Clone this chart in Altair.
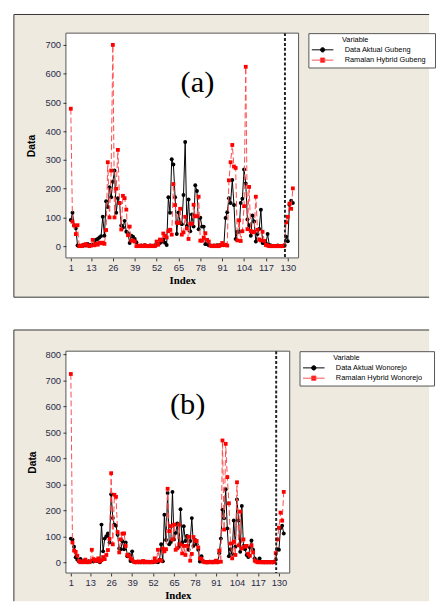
import altair as alt
import pandas as pd

index = list(range(1, 134))

aktual_gubeng = [
    91, 116, 72, 62, 2, 0, 0, 3, 5, 2,
    8, 3, 5, 4, 10, 22, 25, 30, 35, 102,
    36, 156, 136, 205, 170, 224, 263, 116, 167, 150,
    72, 65, 88, 50, 45, 11, 36, 33, 25, 14,
    0, 0, 2, 0, 3, 0, 0, 2, 0, 0,
    3, 5, 8, 11, 15, 23, 12, 4, 170, 116,
    302, 284, 170, 42, 117, 82, 76, 178, 362, 70,
    162, 52, 110, 68, 212, 192, 59, 99, 68, 68,
    7, 7, 3, 2, 0, 2, 0, 3, 2, 4,
    5, 3, 98, 118, 167, 150, 230, 143, 25, 50,
    50, 150, 165, 267, 218, 93, 73, 36, 107, 86,
    16, 42, 60, 127, 11, 11, 10, 42, 4, 2,
    0, 0, 0, 2, 0, 0, 0, 3, 33, 17,
    144, 158, 150,
]
ramalan_gubeng = [
    478, 85, 72, 42, 73, 0, 2, 0, 5, 7,
    3, 0, 2, 22, 3, 8, 5, 12, 10, 12,
    8, 56, 292, 100, 263, 700, 100, 200, 335, 150,
    58, 175, 167, 127, 38, 68, 19, 20, 16, 0,
    0, 2, 0, 0, 3, 0, 0, 0, 2, 0,
    0, 16, 5, 23, 20, 44, 36, 30, 52, 57,
    40, 216, 143, 82, 80, 130, 40, 48, 102, 62,
    25, 78, 78, 144, 104, 104, 172, 19, 19, 30,
    45, 22, 16, 2, 0, 0, 2, 0, 0, 3,
    11, 4, 5, 2, 229, 292, 352, 277, 272, 20,
    90, 18, 52, 139, 624, 59, 206, 53, 48, 50,
    172, 57, 23, 20, 50, 18, 4, 2, 0, 0,
    0, 0, 0, 0, 0, 0, 0, 2, 83, 102,
    148, 130, 201,
]
aktual_wonorejo = [
    91, 88, 60, 19, 10, 3, 13, 2, 5, 3,
    0, 4, 2, 5, 3, 8, 5, 10, 0, 145,
    42, 91, 100, 111, 76, 262, 170, 145, 141, 106,
    53, 50, 81, 50, 76, 23, 30, 5, 42, 3,
    0, 2, 0, 0, 3, 0, 0, 2, 0, 0,
    2, 0, 3, 2, 0, 10, 69, 4, 183, 86,
    267, 69, 78, 271, 88, 113, 149, 60, 204, 76,
    139, 82, 101, 48, 82, 170, 63, 86, 69, 48,
    3, 23, 4, 2, 0, 0, 2, 0, 0, 3,
    2, 0, 35, 91, 202, 169, 281, 130, 23, 50,
    32, 161, 60, 242, 161, 40, 217, 63, 50, 28,
    20, 57, 84, 48, 15, 5, 2, 15, 2, 0,
    0, 0, 0, 0, 0, 0, 2, 10, 50, 48,
    132, 141, 111,
]
ramalan_wonorejo = [
    725, 76, 45, 40, 25, 5, 0, 3, 0, 10,
    2, 0, 3, 48, 12, 5, 8, 15, 3, 8,
    20, 12, 28, 47, 90, 343, 69, 260, 252, 116,
    38, 88, 110, 111, 63, 28, 25, 15, 10, 2,
    0, 0, 3, 0, 0, 5, 0, 0, 2, 0,
    0, 2, 15, 3, 48, 8, 6, 53, 42, 50,
    283, 120, 139, 88, 145, 48, 54, 145, 69, 34,
    63, 28, 63, 98, 6, 32, 97, 83, 82, 57,
    15, 13, 2, 0, 0, 0, 0, 2, 0, 0,
    6, 0, 45, 2, 469, 126, 456, 328, 227, 72,
    15, 79, 28, 308, 65, 195, 53, 88, 60, 63,
    32, 25, 65, 38, 6, 2, 0, 0, 0, 0,
    0, 0, 0, 0, 0, 0, 0, 35, 88, 133,
    191, 160, 271,
]

index_ticks = [1, 13, 26, 39, 52, 65, 78, 91, 104, 117, 130]
data_ticks_a = [0, 100, 200, 300, 400, 500, 600, 700]
data_ticks_b = [0, 100, 200, 300, 400, 500, 600, 700, 800]
split_index = 128.3

BEIGE = "#EEEAE0"
# legend symbols: a horizontal line with a marker in the middle
CIRCLE_PATH = "M-2.75,0L2.75,0M-0.55,0A0.55,0.55,0,1,0,0.55,0A0.55,0.55,0,1,0,-0.55,0Z"
SQUARE_PATH = "M-2.75,0L2.75,0M-0.55,-0.55L0.55,-0.55L0.55,0.55L-0.55,0.55Z"
NB = "\u00a0"
ZW = "\u200b"


def make_panel(actual, forecast, name_actual, name_forecast, tag, g):
    n = len(index)
    df = pd.DataFrame({
        "Index": index * 2,
        "Data": actual + forecast,
        "Variable": [name_actual] * n + [name_forecast] * n,
    })
    xscale = alt.Scale(domain=g["xdom"], nice=False, zero=False)
    xenc = alt.X(
        "Index:Q",
        scale=xscale,
        axis=alt.Axis(values=index_ticks, tickCount=30, title="Index", grid=False, domain=False,
                      tickSize=3, tickColor="#333", labelFont="Liberation Sans",
                      labelFontSize=9.5, labelColor="#2a2a48", labelPadding=2,
                      labelFlush=False, labelOverlap=False,
                      titleFont="Liberation Serif", titleFontSize=11,
                      titleFontWeight="bold", titleColor="black", titleY=23,
                      titleBaseline="middle", zindex=1),
    )
    yenc = alt.Y(
        "Data:Q",
        scale=alt.Scale(domain=g["ydom"], nice=False, zero=False),
        axis=alt.Axis(values=g["yticks"], tickCount=30, title="Data", grid=False, domain=False,
                      tickSize=3, tickColor="#333", labelFont="Liberation Sans",
                      labelFontSize=9.5, labelColor="#2a2a48", labelPadding=2.5,
                      labelOverlap=False,
                      titleFont="Liberation Sans", titleFontSize=10.5,
                      titleFontWeight="bold", titleColor="black", titleX=g["titlex"],
                      titleBaseline="middle", zindex=1),
    )
    base = alt.Chart(df).encode(x=xenc, y=yenc)
    one = pd.DataFrame({"tag": [tag]})
    L, T, R, B = g["frame"]

    layers = []
    layers.append(alt.Chart(one).mark_rect(fill=BEIGE, strokeWidth=0).encode(
        x=alt.value(L), x2=alt.value(R), y=alt.value(T), y2=alt.value(B)))
    layers.append(alt.Chart(one).mark_rule(color="#333", strokeWidth=1).encode(
        x=alt.value(L), x2=alt.value(R), y=alt.value(T)))
    layers.append(alt.Chart(one).mark_rule(color="#333", strokeWidth=1).encode(
        x=alt.value(L), y=alt.value(T), y2=alt.value(B)))
    if g["bottom_border"]:
        layers.append(alt.Chart(one).mark_rule(color="#333", strokeWidth=1).encode(
            x=alt.value(L), x2=alt.value(R), y=alt.value(B)))
    layers.append(alt.Chart(one).mark_rect(fill="white", stroke="#555", strokeWidth=1).encode(
        x=alt.value(0), x2=alt.value(g["W"]), y=alt.value(0), y2=alt.value(g["H"])))

    act = base.transform_filter(alt.datum.Variable == name_actual)
    fc = base.transform_filter(alt.datum.Variable == name_forecast)
    layers.append(act.mark_line(color="black", strokeWidth=1))
    layers.append(act.mark_point(shape="circle", filled=True, size=16, color="black", opacity=1))
    layers.append(fc.mark_line(color="#ff4a4a", strokeWidth=1, strokeDash=[6, 3]))
    layers.append(fc.mark_point(shape="square", filled=True, size=15, color="#ff0000", opacity=1))

    layers.append(alt.Chart(one).mark_rule(color="#222", strokeWidth=2, strokeDash=[3, 2]).encode(
        x=alt.datum(split_index)))

    layers.append(alt.Chart(one).mark_text(font="Liberation Serif", fontSize=31, color="black",
                                           align="center", baseline="middle").encode(
        text="tag:N", x=alt.value(g["tagpos"][0]), y=alt.value(g["tagpos"][1])))

    lg = alt.Legend(orient="none", legendX=g["legpos"][0], legendY=g["legpos"][1],
                    title=ZW + NB * 15 + "Variable", titleFont="Liberation Sans", titleFontSize=7.5,
                    titleFontWeight="normal", titleColor="black", titlePadding=2,
                    labelFont="Liberation Sans", labelFontSize=7.5, labelColor="black",
                    labelOffset=18, symbolSize=64, symbolOffset=7, symbolStrokeWidth=1,
                    rowPadding=1.5, padding=3, fillColor="white", strokeColor="#555",
                    labelExpr="datum.label + '" + NB * g["trail"] + ZW + "'")
    dom = [name_actual, name_forecast]
    layers.append(base.mark_point(filled=False, opacity=1).encode(
        fill=alt.Fill("Variable:N", scale=alt.Scale(domain=dom, range=["black", "#ff0000"]), legend=lg),
        stroke=alt.Stroke("Variable:N", scale=alt.Scale(domain=dom, range=["black", "#ff5050"]), legend=lg),
        shape=alt.Shape("Variable:N", scale=alt.Scale(domain=dom, range=[CIRCLE_PATH, SQUARE_PATH]), legend=lg),
    ).transform_filter("datum.Index < 0"))

    return alt.layer(*layers).properties(width=g["W"], height=g["H"])


geo_a = dict(W=237, H=229, xdom=[-1.9, 136.4], ydom=[-41, 741], yticks=data_ticks_a,
             frame=(-53, -19, 370, 269), bottom_border=True, legpos=(247, 0),
             tagpos=(134, 51), titlex=-35, trail=3)
geo_b = dict(W=228, H=226, xdom=[-2.05, 136.7], ydom=[-41.6, 812.8], yticks=data_ticks_b,
             frame=(-53, -21.6, 370, 254.7), bottom_border=False, legpos=(238, 0),
             tagpos=(124, 55), titlex=-34, trail=4)

pa = make_panel(aktual_gubeng, ramalan_gubeng, "Data Aktual Gubeng", "Ramalan Hybrid Gubeng", "(a)", geo_a)
pb = make_panel(aktual_wonorejo, ramalan_wonorejo, "Data Aktual Wonorejo", "Ramalan Hybrid Wonorejo", "(b)", geo_b)

chart = alt.vconcat(pa, pb, spacing=31).resolve_scale(
    x="independent", y="independent", fill="independent", stroke="independent", shape="independent"
).resolve_legend(
    fill="independent", stroke="independent", shape="independent"
).properties(
    padding={"left": 5, "top": 0, "right": 0, "bottom": 0}, background="white"
).configure_view(strokeWidth=0)

chart.save("out.html", embed_options={"renderer": "svg", "actions": False})
